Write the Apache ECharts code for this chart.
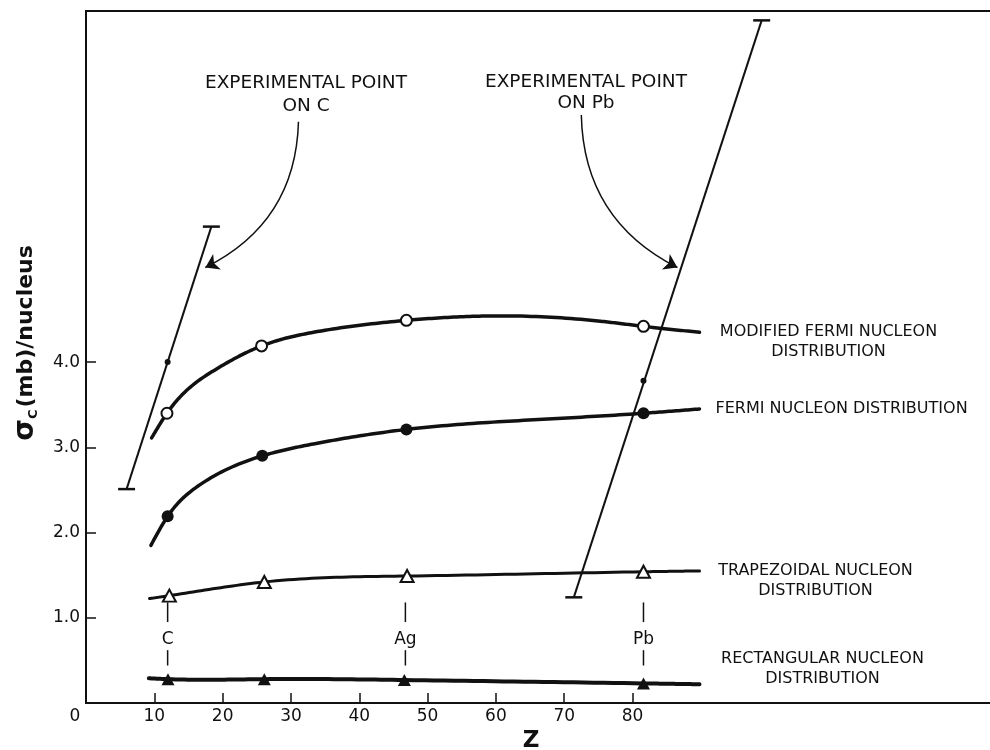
<!DOCTYPE html>
<html><head><meta charset="utf-8">
<script src="https://cdn.jsdelivr.net/npm/echarts@6/dist/echarts.min.js"></script>
<style>html,body{margin:0;padding:0;background:#fff}#c{width:990px;height:750px}</style>
</head><body><div id="c"></div>
<script>
// ---------------- data ----------------
const xTickValues = [10, 20, 30, 40, 50, 60, 70, 80];
const xLabelValues = [0, 10, 20, 30, 40, 50, 60, 70, 80];
const yTickValues = [1, 2, 3, 4];

const curveNames = [
  'MODIFIED FERMI NUCLEON\nDISTRIBUTION',
  'FERMI NUCLEON DISTRIBUTION',
  'TRAPEZOIDAL NUCLEON\nDISTRIBUTION',
  'RECTANGULAR NUCLEON\nDISTRIBUTION'
];

// traced curves [Z, sigma]
const modFermiCurve = [[9.6,3.11],[11.85,3.40],[18.7,3.90],[25.7,4.19],[33.3,4.35],[46.9,4.49],[58.0,4.54],[75.3,4.48],[81.6,4.42],[89.8,4.35]];
const fermiCurve    = [[9.5,1.85],[11.95,2.19],[16.3,2.54],[25.8,2.90],[33.3,3.04],[46.9,3.21],[64.8,3.32],[81.6,3.40],[89.8,3.45]];
const trapCurve     = [[9.3,1.225],[12.2,1.26],[26.1,1.42],[47.0,1.49],[81.6,1.54],[89.8,1.55]];
const rectCurve     = [[9.2,0.29],[12.0,0.28],[26.1,0.28],[46.6,0.27],[81.6,0.23],[89.8,0.22]];

// calculated points (markers)
const modFermiPoints = [[11.85,3.40],[25.7,4.19],[46.9,4.49],[81.6,4.42]];
const fermiPoints    = [[11.95,2.19],[25.8,2.90],[46.9,3.21],[81.6,3.40]];
const trapPoints     = [[12.2,1.26],[26.1,1.42],[47.0,1.49],[81.6,1.54]];
const rectPoints     = [[12.0,0.28],[26.1,0.28],[46.6,0.27],[81.6,0.23]];

// experimental points: [lowZ, lowSigma, pointZ, pointSigma, highZ, highSigma]
const expC  = [5.94, 2.51, 11.95, 4.00, 18.35, 5.59];
const expPb = [71.4, 1.24, 81.6, 3.78, 98.9, 8.01];

// element markers
const elementZ = [11.95, 46.75, 81.6];
const elementNames = ['C', 'Ag', 'Pb'];

// annotation arrows [from, to]
const arrowC  = [[31.1, 6.82], [17.47, 5.11]];
const arrowPb = [[72.5, 6.90], [86.57, 5.11]];
const annotTexts = ['EXPERIMENTAL POINT\nON C', 'EXPERIMENTAL POINT\nON Pb'];

// ---------------- chart ----------------
const ink = '#111';
const FONT = 'DejaVu Sans';
const chart = echarts.init(document.getElementById('c'));

// natural cubic spline through pixel points (x increasing), sampled for drawing
function splinePixels(pts, steps) {
  const n = pts.length;
  const x = pts.map(p => p[0]), y = pts.map(p => p[1]);
  const h = [], a = [], b = [], c = [], d = [], M = new Array(n).fill(0);
  for (let i = 0; i < n - 1; i++) h.push(x[i + 1] - x[i]);
  if (n > 2) {
    const m = n - 2;
    for (let i = 1; i <= m; i++) {
      a.push(h[i - 1]); b.push(2 * (h[i - 1] + h[i])); c.push(h[i]);
      d.push(6 * ((y[i + 1] - y[i]) / h[i] - (y[i] - y[i - 1]) / h[i - 1]));
    }
    for (let i = 1; i < m; i++) {
      const w = a[i] / b[i - 1];
      b[i] -= w * c[i - 1]; d[i] -= w * d[i - 1];
    }
    const sol = new Array(m);
    sol[m - 1] = d[m - 1] / b[m - 1];
    for (let i = m - 2; i >= 0; i--) sol[i] = (d[i] - c[i] * sol[i + 1]) / b[i];
    for (let i = 0; i < m; i++) M[i + 1] = sol[i];
  }
  const out = [];
  for (let i = 0; i < n - 1; i++) {
    for (let s = 0; s < steps; s++) {
      const t = s / steps, hi = h[i];
      const A = 1 - t, B = t;
      const yy = A * y[i] + B * y[i + 1] + ((A * A * A - A) * M[i] + (B * B * B - B) * M[i + 1]) * hi * hi / 6;
      out.push([x[i] + t * hi, yy]);
    }
  }
  out.push([x[n - 1], y[n - 1]]);
  return out;
}

function curveSeries(curve, width) {
  return { type: 'custom', data: curve, silent: true, z: 3,
    renderItem: function (params, api) {
      if (params.dataIndex !== 0) return null;
      const px = curve.map(p => api.coord(p));
      return { type: 'polyline', shape: { points: splinePixels(px, 24) },
               style: { stroke: ink, lineWidth: width, fill: null, lineCap: 'round', lineJoin: 'round' } };
    } };
}
function markerSeries(data, symbol, filled, size) {
  return { type: 'scatter', data: data, symbol: symbol, symbolSize: size, silent: true,
           itemStyle: { color: filled ? ink : '#fff', borderColor: ink, borderWidth: filled ? 0 : 2, opacity: 1 }, z: 5 };
}
function endLabelSeries(curve, text, offset, align) {
  return { type: 'scatter', data: [curve[curve.length - 1]], symbolSize: 0, silent: true,
           itemStyle: { opacity: 1 },
           label: { show: true, position: 'inside', formatter: text, offset: offset, align: align,
                    verticalAlign: 'middle', color: ink, fontFamily: FONT, fontSize: 16, lineHeight: 20 } };
}

function renderErrorBar(params, api) {
  const lo = api.coord([api.value(0), api.value(1)]);
  const pt = api.coord([api.value(2), api.value(3)]);
  const hi = api.coord([api.value(4), api.value(5)]);
  const cap = 8.5;
  const st = { stroke: ink, lineWidth: 2 };
  return { type: 'group', children: [
    { type: 'line', shape: { x1: lo[0], y1: lo[1], x2: hi[0], y2: hi[1] }, style: st },
    { type: 'line', shape: { x1: lo[0] - cap, y1: lo[1], x2: lo[0] + cap, y2: lo[1] }, style: { stroke: ink, lineWidth: 2.5 } },
    { type: 'line', shape: { x1: hi[0] - cap, y1: hi[1], x2: hi[0] + cap, y2: hi[1] }, style: { stroke: ink, lineWidth: 2.5 } },
    { type: 'circle', shape: { cx: pt[0], cy: pt[1], r: 3 }, style: { fill: ink } }
  ]};
}

function renderElement(params, api) {
  const z = api.value(0);
  const a = api.coord([z, 1.18]), b = api.coord([z, 0.95]);
  const c = api.coord([z, 0.62]), d = api.coord([z, 0.44]);
  const m = api.coord([z, 0.75]);
  const st = { stroke: ink, lineWidth: 1.5 };
  return { type: 'group', children: [
    { type: 'line', shape: { x1: a[0], y1: a[1], x2: b[0], y2: b[1] }, style: st },
    { type: 'line', shape: { x1: c[0], y1: c[1], x2: d[0], y2: d[1] }, style: st },
    { type: 'text', x: m[0], y: m[1], style: { text: elementNames[params.dataIndex], fill: ink,
        font: '17px "DejaVu Sans"', align: 'center', verticalAlign: 'middle' } }
  ]};
}

const option = {
  animation: false,
  backgroundColor: '#fff',
  grid: { left: 86, top: 11, width: 910, height: 692, outerBoundsMode: 'none', containLabel: false,
          show: true, borderColor: ink, borderWidth: 2 },
  xAxis: {
    type: 'value', min: 0, max: 133.2,
    name: 'Z', nameLocation: 'middle', nameGap: 26,
    nameTextStyle: { color: ink, fontFamily: FONT, fontWeight: 'bold', fontSize: 23, padding: [0, 20, 0, 0] },
    axisLine: { show: true, lineStyle: { color: ink, width: 2 } },
    axisTick: { show: true, inside: true, length: 10, customValues: xTickValues, lineStyle: { color: ink, width: 1.5 } },
    axisLabel: { customValues: xLabelValues, color: ink, fontFamily: FONT, fontSize: 17, margin: 5,
      formatter: v => v === 0 ? '{z|0}' : String(v),
      rich: { z: { color: ink, fontFamily: FONT, fontSize: 17, padding: [0, 22, 0, 0] } } },
    splitLine: { show: false }
  },
  yAxis: {
    type: 'value', min: 0, max: 8.12,
    name: '{s|σ}{sub|C}{m|(mb)/nucleus}', nameLocation: 'middle', nameGap: 46,
    nameTextStyle: { padding: [0, 0, 0, 28], rich: {
      s: { fontFamily: FONT, fontWeight: 'bold', fontSize: 28, color: ink },
      sub: { fontFamily: FONT, fontWeight: 'bold', fontSize: 13, color: ink, verticalAlign: 'bottom', padding: [8, 2, 0, 0] },
      m: { fontFamily: FONT, fontWeight: 'bold', fontSize: 22, color: ink } } },
    axisLine: { show: true, lineStyle: { color: ink, width: 2 } },
    axisTick: { show: true, inside: true, length: 10, customValues: yTickValues, lineStyle: { color: ink, width: 1.5 } },
    axisLabel: { customValues: yTickValues, color: ink, fontFamily: FONT, fontSize: 17, margin: 6,
      formatter: v => v.toFixed(1) },
    splitLine: { show: false }
  },
  graphic: [
    { type: 'text', x: 306, y: 95, style: { text: annotTexts[0], fill: ink, font: '18.5px "DejaVu Sans"',
        align: 'center', verticalAlign: 'middle', lineHeight: 23 } },
    { type: 'text', x: 586, y: 93, style: { text: annotTexts[1], fill: ink, font: '18.5px "DejaVu Sans"',
        align: 'center', verticalAlign: 'middle', lineHeight: 21 } }
  ],
  series: [
    curveSeries(modFermiCurve, 3.5),
    curveSeries(fermiCurve, 3.5),
    curveSeries(trapCurve, 3),
    curveSeries(rectCurve, 4),
    markerSeries(modFermiPoints, 'circle', false, 11),
    markerSeries(fermiPoints, 'circle', true, 12),
    markerSeries(trapPoints, 'triangle', false, [13, 12]),
    markerSeries(rectPoints, 'triangle', true, [13, 12]),
    endLabelSeries(modFermiCurve, curveNames[0], [129, 10], 'center'),
    endLabelSeries(fermiCurve, curveNames[1], [16, 0], 'left'),
    endLabelSeries(trapCurve, curveNames[2], [116, 10], 'center'),
    endLabelSeries(rectCurve, curveNames[3], [123, -15], 'center'),
    { type: 'custom', renderItem: renderErrorBar, data: [expC, expPb], silent: true, z: 4 },
    { type: 'custom', renderItem: renderElement, data: elementZ.map(z => [z]), silent: true, z: 4 },
    { type: 'lines', coordinateSystem: 'cartesian2d', silent: true, z: 4,
      symbol: ['none', 'arrow'], symbolSize: 13,
      lineStyle: { color: ink, width: 1.5, opacity: 1 },
      data: [
        { coords: arrowC, lineStyle: { curveness: 0.3 } },
        { coords: arrowPb, lineStyle: { curveness: -0.3 } }
      ] }
  ]
};
chart.setOption(option);
</script>
</body></html>
